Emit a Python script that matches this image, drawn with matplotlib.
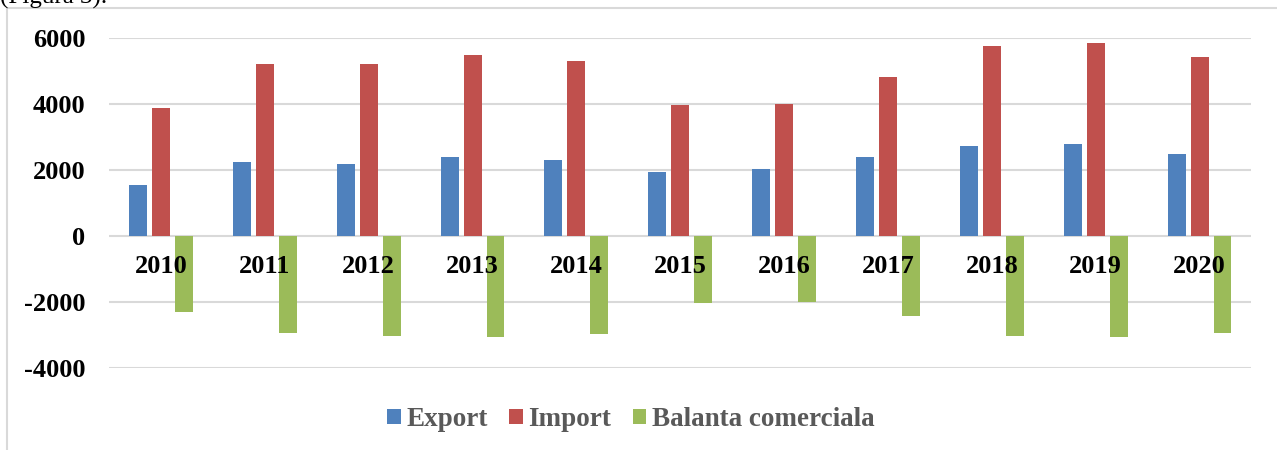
import matplotlib.pyplot as plt
from matplotlib.lines import Line2D
import numpy as np

# values
years = ['2010', '2011', '2012', '2013', '2014', '2015', '2016', '2017', '2018', '2019', '2020']
export = [1550, 2230, 2170, 2400, 2310, 1950, 2030, 2400, 2720, 2790, 2480]
imports = [3870, 5200, 5220, 5470, 5290, 3970, 4000, 4810, 5760, 5850, 5420]
balanta = [-2300, -2940, -3020, -3060, -2980, -2020, -1990, -2410, -3030, -3050, -2930]
yticks = [-4000, -2000, 0, 2000, 4000, 6000]

plt.rcParams['font.family'] = ['Liberation Serif', 'DejaVu Serif']

fig = plt.figure(figsize=(12.77, 4.5), dpi=100)
ax = fig.add_axes([0.0854, 0.1822, 0.8946, 0.7334])

x = np.arange(len(years))
w = 0.173
step = 0.221
ax.bar(x - step, export, w, color='#4F81BD', label='Export', zorder=2)
ax.bar(x, imports, w, color='#C0504D', label='Import', zorder=2)
ax.bar(x + step, balanta, w, color='#9BBB59', label='Balanta comerciala', zorder=2)

ax.set_xlim(-0.5, len(years) - 0.5)
ax.set_ylim(-4000, 6000)
ax.set_yticks(yticks)
ax.set_yticklabels([str(v) for v in yticks], fontsize=19, fontweight='bold')
ax.tick_params(axis='y', length=0, pad=17)
ax.set_xticks([])
ax.grid(axis='y', color='#D9D9D9', linewidth=1.5, zorder=0)
ax.set_axisbelow(True)
for s in ax.spines.values():
    s.set_visible(False)

# category labels sit just under the zero line, on top of the bars
for i, yr in enumerate(years):
    ax.annotate(yr, xy=(i, 0), xytext=(0, -22), textcoords='offset points',
                ha='center', va='center', fontsize=19, fontweight='bold',
                color='black', zorder=5)

leg = fig.legend(loc='center', bbox_to_anchor=(0.494, 0.067), ncol=3, frameon=False,
                 prop={'size': 19.5, 'weight': 'bold'}, handlelength=0.5, handleheight=0.5,
                 handletextpad=0.2, columnspacing=0.8)
for t in leg.get_texts():
    t.set_color('#595959')

# chart frame (left and top edges visible in the crop)
fig.add_artist(Line2D([7 / 1277, 7 / 1277], [0, 1 - 8 / 450], color='#D9D9D9', linewidth=1.5))
fig.add_artist(Line2D([7 / 1277, 1], [1 - 8 / 450, 1 - 8 / 450], color='#D9D9D9', linewidth=1.5))

# caption text cut off at the top of the page crop
fig.text(0.0, 1 - 4 / 450, '(Figura 3).', fontsize=18, ha='left', va='baseline', color='black')

fig.savefig('out.png', dpi=100)
